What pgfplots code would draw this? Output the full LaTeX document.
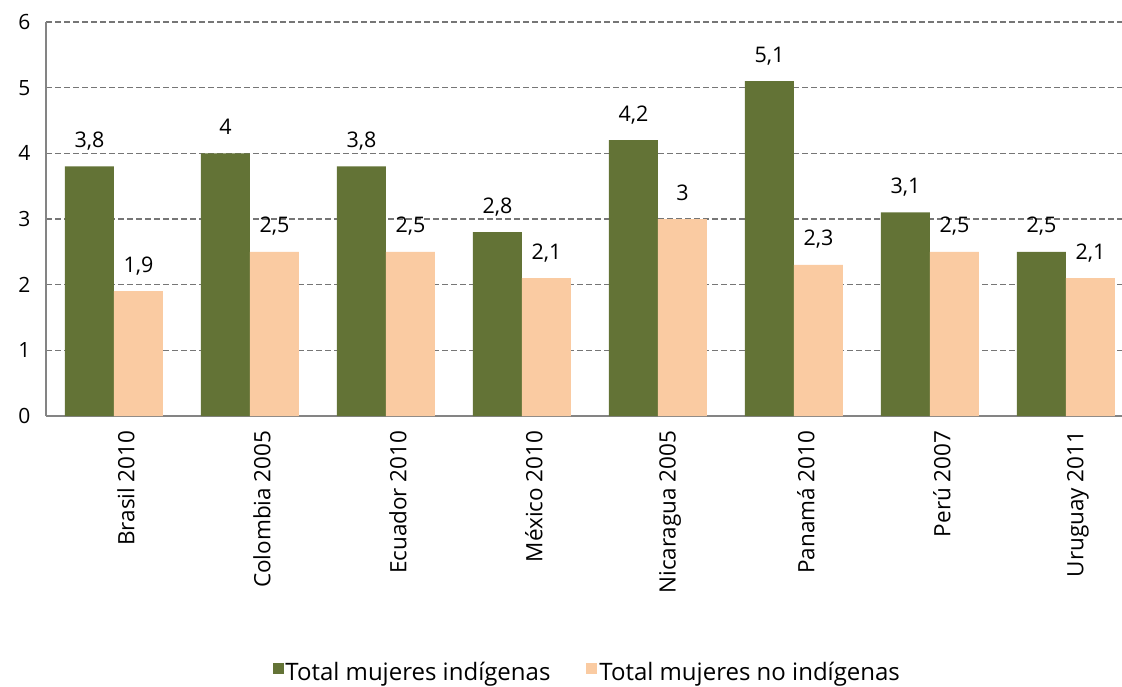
\documentclass[border=0pt]{standalone}
\usepackage{pgfplots}
\pgfplotsset{compat=1.18}
\usepackage{fontspec}
\setmainfont{Open Sans}
\definecolor{cgreen}{RGB}{99,115,54}
\definecolor{cpeach}{RGB}{250,203,162}
\definecolor{cgrid}{RGB}{118,118,118}
\begin{document}
\fontsize{22bp}{26bp}\selectfont
\begin{tikzpicture}
\begin{axis}[
  scale only axis,
  width=1076bp, height=394bp,
  ybar=0pt, bar width=49bp,
  xmin=-0.5, xmax=7.4118,
  ymin=0, ymax=6,
  ytick={0,1,2,3,4,5,6},
  xtick={0,1,2,3,4,5,6,7},
  xticklabels={Brasil 2010,Colombia 2005,Ecuador 2010,México 2010,Nicaragua 2005,Panamá 2010,Perú 2007,Uruguay 2011},
  major tick length=0pt,
  axis x line*=bottom, axis y line*=left,
  axis line style={draw=cgrid!90, line width=1.5bp, -},
  ymajorgrids,
  major grid style={draw=cgrid, dash pattern=on 6bp off 3bp, line width=1.4bp},
  /pgf/number format/assume math mode=true,
  /pgf/number format/use comma,
  yticklabel style={font=\fontsize{21bp}{25bp}\selectfont, xshift=-8bp},
  xticklabel style={font=\fontsize{22.5bp}{26bp}\selectfont, rotate=90, anchor=east, xshift=-7bp, yshift=-12bp},
  nodes near coords,
  every node near coord/.append style={font=\fontsize{21.5bp}{25bp}\selectfont, anchor=base, inner sep=0pt, yshift=19bp},
  legend columns=2,
  legend style={draw=none, at={(0.503,-0.652)}, anchor=center, font=\fontsize{24bp}{28bp}\selectfont, /tikz/every even column/.append style={column sep=34bp}},
  legend image code/.code={\fill[#1] (4bp,-1bp) rectangle (15bp,10bp);},
]
\addplot[fill=cgreen, draw=none] coordinates {(0,3.8) (1,4) (2,3.8) (3,2.8) (4,4.2) (5,5.1) (6,3.1) (7,2.5)};
\addplot[fill=cpeach, draw=none] coordinates {(0,1.9) (1,2.5) (2,2.5) (3,2.1) (4,3) (5,2.3) (6,2.5) (7,2.1)};
\legend{Total mujeres indígenas, Total mujeres no indígenas}
\end{axis}
\pgfresetboundingbox
\path[use as bounding box] (-46bp,-271bp) rectangle (1076bp,416bp);
\end{tikzpicture}
\end{document}
